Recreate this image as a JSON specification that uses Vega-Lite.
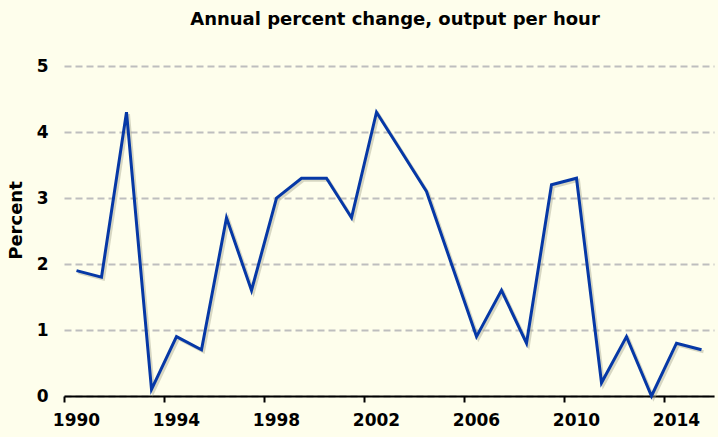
{
  "$schema": "https://vega.github.io/schema/vega-lite/v6.json",
  "width": 650,
  "height": 330,
  "autosize": {"type": "none"},
  "padding": {"left": 64, "top": 66, "right": 4, "bottom": 41},
  "background": "#FEFEEC",
  "title": {
    "text": "Annual percent change, output per hour",
    "font": "DejaVu Sans",
    "fontSize": 18,
    "fontWeight": "bold",
    "color": "#000000",
    "anchor": "middle",
    "dx": 6,
    "offset": 28
  },
  "config": {
    "view": {"stroke": null},
    "axis": {"labelFont": "DejaVu Sans", "titleFont": "DejaVu Sans"}
  },
  "data": {
    "values": [
      {"year": 1990, "value": 1.9},
      {"year": 1991, "value": 1.8},
      {"year": 1992, "value": 4.3},
      {"year": 1993, "value": 0.1},
      {"year": 1994, "value": 0.9},
      {"year": 1995, "value": 0.7},
      {"year": 1996, "value": 2.7},
      {"year": 1997, "value": 1.6},
      {"year": 1998, "value": 3.0},
      {"year": 1999, "value": 3.3},
      {"year": 2000, "value": 3.3},
      {"year": 2001, "value": 2.7},
      {"year": 2002, "value": 4.3},
      {"year": 2003, "value": 3.7},
      {"year": 2004, "value": 3.1},
      {"year": 2005, "value": 2.0},
      {"year": 2006, "value": 0.9},
      {"year": 2007, "value": 1.6},
      {"year": 2008, "value": 0.8},
      {"year": 2009, "value": 3.2},
      {"year": 2010, "value": 3.3},
      {"year": 2011, "value": 0.2},
      {"year": 2012, "value": 0.9},
      {"year": 2013, "value": 0.0},
      {"year": 2014, "value": 0.8},
      {"year": 2015, "value": 0.7}
    ]
  },
  "encoding": {
    "x": {
      "field": "year",
      "type": "ordinal",
      "scale": {"type": "band", "paddingInner": 0, "paddingOuter": 0},
      "axis": {
        "title": null,
        "values": [1990, 1994, 1998, 2002, 2006, 2010, 2014],
        "labelAngle": 0,
        "bandPosition": 0,
        "domainColor": "#000000",
        "domainWidth": 2,
        "tickColor": "#000000",
        "tickWidth": 2,
        "tickSize": 6,
        "labelFontSize": 17,
        "labelFontWeight": "bold",
        "labelColor": "#000000",
        "labelPadding": 10,
        "grid": false
      }
    },
    "y": {
      "field": "value",
      "type": "quantitative",
      "scale": {"domain": [0, 5], "nice": false},
      "axis": {
        "title": "Percent",
        "values": [0, 1, 2, 3, 4, 5],
        "domain": false,
        "ticks": false,
        "labelFontSize": 17,
        "labelFontWeight": "bold",
        "labelColor": "#000000",
        "labelPadding": 16,
        "titleFontSize": 18,
        "titleFontWeight": "bold",
        "titleColor": "#000000",
        "titlePadding": 11,
        "titleY": 154,
        "grid": true,
        "gridColor": "#BEBEBE",
        "gridWidth": 2,
        "gridDash": [7, 4]
      }
    }
  },
  "layer": [
    {
      "mark": {"type": "line", "color": "#A8A890", "strokeWidth": 3, "opacity": 0.45, "xOffset": 2, "yOffset": 2}
    },
    {
      "mark": {"type": "line", "color": "#0638A6", "strokeWidth": 3}
    }
  ]
}
